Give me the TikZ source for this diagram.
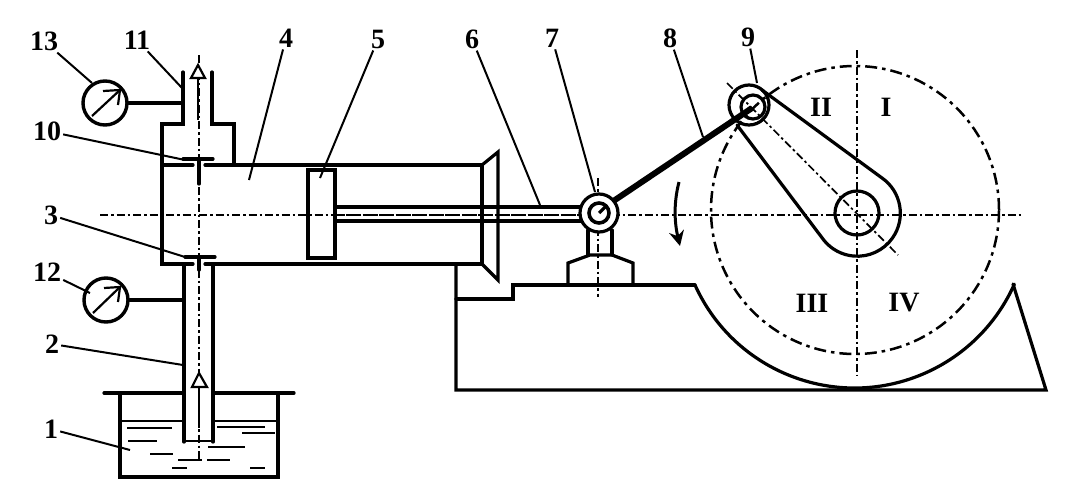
\documentclass[tikz,border=0pt]{standalone}
\usepackage{fontspec}
\setmainfont{Liberation Serif}
\usetikzlibrary{arrows.meta, calc}

\begin{document}
\begin{tikzpicture}[
    x=1pt, y=-1pt,
    wall/.style={line width=3.2pt, black, line cap=round, line join=miter},
    thinwall/.style={line width=2.2pt, black},
    leader/.style={line width=2pt, black},
    centerline/.style={line width=1.7pt, black, dash pattern=on 8pt off 3pt on 2.5pt off 3pt},
    phaseline/.style={line width=2.5pt, black, dash pattern=on 12pt off 5pt on 3.5pt off 5pt},
    water/.style={line width=2pt, black},
    label/.style={inner sep=2pt, font=\fontsize{28}{30}\selectfont\bfseries},
    phase/.style={inner sep=0pt, font=\fontsize{28}{30}\selectfont\bfseries}
]
    \useasboundingbox (0,0) rectangle (1070,498);

    % Axes
    \draw[centerline] (100,215) -- (1022,215);
    \draw[centerline] (199,55) -- (199,460);
    \draw[centerline] (857,50) -- (857,375);
    \draw[centerline] (598,178) -- (598,297);
    \draw[centerline] (727,83) -- (898,255);

    % Phase circle
    \draw[phaseline] (855,210) circle[radius=144pt];

    % Chamber and valve seats
    \draw[wall] (183,72) -- (183,124) -- (162,124) -- (162,264) -- (193,264);
    \draw[wall] (212,72) -- (212,124) -- (234,124) -- (234,165);
    \draw[wall] (162,165) -- (193,165);
    \draw[wall] (205,165) -- (482,165);
    \draw[wall] (205,264) -- (482,264);

    % Valves
    \draw[wall] (183,159) -- (213,159);
    \draw[wall] (199,159) -- (199,184);
    \draw[wall] (185,257) -- (215,257);
    \draw[wall] (199,257) -- (199,270);

    % Suction pipe and tank
    \draw[wall] (184,264) -- (184,442);
    \draw[wall] (213,264) -- (213,442);
    \draw[thinwall] (184,441) -- (213,441);
    \draw[wall] (104,393) -- (183,393);
    \draw[wall] (215,393) -- (294,393);
    \draw[wall] (120,393) -- (120,477) -- (278,477) -- (278,393);
    \draw[thinwall] (120,421) -- (184,421);
    \draw[thinwall] (214,421) -- (278,421);

    % Water
    \draw[water] (127,428) -- (172,428);
    \draw[water] (217,427) -- (265,427);
    \draw[water] (242,433) -- (275,433);
    \draw[water] (128,441) -- (157,441);
    \draw[water] (208,447) -- (245,447);
    \draw[water] (150,454) -- (173,454);
    \draw[water] (178,460) -- (202,460);
    \draw[water] (207,460) -- (230,460);
    \draw[water] (172,468) -- (187,468);
    \draw[water] (250,468) -- (265,468);

    % Flow arrows
    \draw[thinwall] (198,78) -- (198,120);
    \draw[thinwall] (199,387) -- (199,428);
    \draw[thinwall, fill=white] (198,65) -- (191,78) -- (205,78) -- cycle;
    \draw[thinwall, fill=white] (199,373) -- (192,387) -- (207,387) -- cycle;

    % Cylinder end
    \draw[wall] (482,165) -- (482,264);
    \draw[wall] (482,165) -- (498,152) -- (498,280) -- (482,264);

    % Piston and rod
    \draw[wall] (308,170) rectangle (335,258);
    \draw[wall] (335,207) -- (582,207);
    \draw[wall] (335,221) -- (582,221);
    \draw[centerline] (335,215) -- (582,215);

    % Frame with cam track
    \draw[wall] (456,264) -- (456,390) -- (1046,390) -- (1013,284);
    \draw[wall] (456,299) -- (513,299) -- (513,285) -- (695,285);
    \draw[wall] (695,285) arc[start angle=204.3, end angle=336, radius=175pt];

    % Support
    \draw[wall] (568,284) -- (568,263) -- (590,255) -- (612,255) -- (633,263) -- (633,284);
    \draw[wall] (588,230) -- (588,255);
    \draw[wall] (612,230) -- (612,255);

    % Crank
    \draw[wall] (762,90) -- (882,178) arc[start angle=55, end angle=-141, radius=43pt] -- (737,125);
    \draw[wall] (857,213) circle[radius=22pt];
    \draw[wall] (749,105) circle[radius=20pt];
    \draw[wall] (753,107) circle[radius=12pt];

    % Connecting rod
    \draw[line width=6pt, black] (606,206) -- (752,108);

    % Wrist pin
    \draw[wall, fill=white] (599,213) circle[radius=19pt];
    \draw[line width=3.6pt, black] (599,213) circle[radius=10pt];
    \draw[line width=3.2pt, black] (599,213) -- (606,206);

    % Rotation arrow
    \draw[line width=3pt, black, -{Stealth[length=15pt, width=15pt]}] (679,182) .. controls (673,205) and (675,225) .. (680,246);

    % Gauges
    \node[draw, circle, line width=3.4pt, minimum size=44pt, inner sep=0pt] (gauge13) at (105,103) {};
    \node[draw, circle, line width=3.4pt, minimum size=44pt, inner sep=0pt] (gauge12) at (106,300) {};
    \coordinate (port13) at (183,103);
    \coordinate (port12) at (184,300);
    \draw[wall] (gauge13) -- (port13);
    \draw[wall] (gauge12) -- (port12);
    \draw[thinwall] (92,116) -- (120,90);
    \draw[thinwall] (103,91) -- (120,90) -- (118,105);
    \draw[thinwall] (93,313) -- (120,287);
    \draw[thinwall] (104,288) -- (120,287) -- (118,302);

    % Labels
    \node[label] (lab1) at (51,429) {1};
    \node[label] (lab2) at (52,344) {2};
    \node[label] (lab3) at (51,215) {3};
    \node[label] (lab4) at (286,38) {4};
    \node[label] (lab5) at (378,39) {5};
    \node[label] (lab6) at (472,39) {6};
    \node[label] (lab7) at (552,38) {7};
    \node[label] (lab8) at (670,38) {8};
    \node[label] (lab9) at (748,37) {9};
    \node[label] (lab10) at (47,131) {10};
    \node[label] (lab11) at (137,40) {11};
    \node[label] (lab12) at (47,272) {12};
    \node[label] (lab13) at (44,41) {13};

    \node[phase] (ph1) at (886,107) {I};
    \node[phase] (ph2) at (821,107) {II};
    \node[phase] (ph3) at (812,303) {III};
    \node[phase] (ph4) at (904,303) {IV};

    % Leader tips
    \coordinate (tip1) at (130,450);
    \coordinate (tip2) at (183,365);
    \coordinate (tip3) at (185,257);
    \coordinate (tip4) at (249,180);
    \coordinate (tip5) at (320,178);
    \coordinate (tip6) at (540,205);
    \coordinate (tip7) at (595,192);
    \coordinate (tip8) at (703,137);
    \coordinate (tip9) at (757,83);
    \coordinate (tip10) at (185,160);
    \coordinate (tip11) at (182,88);
    \coordinate (tip12) at (90,293);
    \coordinate (tip13) at (92,83);

    % Leaders
    \draw[leader] (lab1) -- (tip1);
    \draw[leader] (lab2) -- (tip2);
    \draw[leader] (lab3) -- (tip3);
    \draw[leader] (lab4) -- (tip4);
    \draw[leader] (lab5) -- (tip5);
    \draw[leader] (lab6) -- (tip6);
    \draw[leader] (lab7) -- (tip7);
    \draw[leader] (lab8) -- (tip8);
    \draw[leader] (lab9) -- (tip9);
    \draw[leader] (lab10) -- (tip10);
    \draw[leader] (lab11) -- (tip11);
    \draw[leader] (lab12) -- (tip12);
    \draw[leader] (lab13) -- (tip13);
\end{tikzpicture}
\end{document}
